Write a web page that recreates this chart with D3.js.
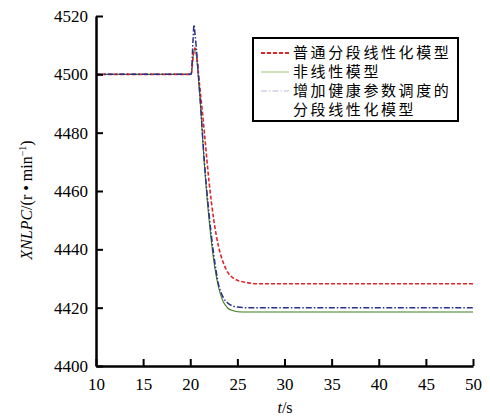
<!DOCTYPE html>
<html lang="zh">
<head>
<meta charset="utf-8">
<title>XNLPC</title>
<script src="https://cdn.jsdelivr.net/npm/d3@7"></script>
<style>
  body { margin: 0; background: #fff; }
  text { font-family: "Liberation Serif", "DejaVu Serif", serif; }
  .cjk { font-family: "Noto Sans CJK SC", sans-serif; }
</style>
</head>
<body>
<script>
// time points (s)
var times = [10, 20, 20.1, 20.3, 20.4, 20.5, 21, 21.5, 22, 22.5, 23, 23.5, 24, 24.5, 25, 26, 27, 50];
// common piecewise linearised model
var redVals   = [4500, 4500, 4500, 4506, 4508, 4509, 4496, 4480, 4463, 4450, 4441, 4435.5, 4432, 4430.3, 4429.4, 4428.6, 4428.2, 4428.2];
// nonlinear model
var greenVals = [4500, 4500, 4500, 4506, 4508, 4509, 4493, 4469, 4450, 4436, 4427, 4422, 4419.8, 4419, 4418.6, 4418.5, 4418.5, 4418.5];
// piecewise linearised model with health parameter scheduling
var blueVals  = [4500, 4500, 4500, 4512, 4517, 4514, 4494, 4470, 4452, 4438, 4428, 4423.5, 4421.5, 4420.6, 4420.2, 4420, 4420, 4420];

var xTicks = [10, 15, 20, 25, 30, 35, 40, 45, 50];
var yTicks = [4400, 4420, 4440, 4460, 4480, 4500, 4520];
var legendNames = ["普通分段线性化模型", "非线性模型", "增加健康参数调度的", "分段线性化模型"];

var w = 490, h = 418;
var mLeft = 96, mRight = 473, mTop = 16, mBottom = 366;

var x = d3.scaleLinear().domain([10, 50]).range([mLeft, mRight]);
var y = d3.scaleLinear().domain([4400, 4520]).range([mBottom, mTop]);

var svg = d3.select("body").append("svg")
    .attr("width", w)
    .attr("height", h);

var series = [
  {vals: greenVals, color: "#3f7d1f", dash: null, width: 1.1},
  {vals: redVals, color: "#e0262b", dash: "4,2", width: 1.6},
  {vals: blueVals, color: "#2a2f8c", dash: "6,2,1.5,2", width: 1.5}
];

var line = d3.line()
    .x(function(d) { return x(d[0]); })
    .y(function(d) { return y(d[1]); })
    .curve(d3.curveMonotoneX);

series.forEach(function(s) {
  svg.append("path")
     .datum(times.map(function(t, i) { return [t, s.vals[i]]; }))
     .attr("d", line)
     .attr("fill", "none")
     .attr("stroke", s.color)
     .attr("stroke-width", s.width)
     .attr("stroke-dasharray", s.dash);
});

// axes, ticks point inward
var xAxis = d3.axisBottom(x).tickValues(xTicks).tickSizeInner(-7).tickSizeOuter(0).tickPadding(12);
var yAxis = d3.axisLeft(y).tickValues(yTicks).tickFormat(d3.format("d"))
    .tickSizeInner(-7).tickSizeOuter(0).tickPadding(8);

var gx = svg.append("g").attr("transform", "translate(0," + mBottom + ")").call(xAxis);
var gy = svg.append("g").attr("transform", "translate(" + mLeft + ",0)").call(yAxis);

[gx, gy].forEach(function(g) {
  g.select(".domain").attr("stroke", "#000").attr("stroke-width", 2.5);
  g.selectAll(".tick line").attr("stroke", "#000").attr("stroke-width", 2);
  g.selectAll(".tick text")
   .attr("font-family", "Liberation Serif, serif")
   .attr("font-size", 17)
   .attr("fill", "#000");
});

// axis titles
svg.append("text")
   .attr("x", 285).attr("y", 413)
   .attr("text-anchor", "middle")
   .attr("font-size", 16)
   .html('<tspan font-style="italic">t</tspan>/s');

svg.append("text")
   .attr("transform", "translate(32,200) rotate(-90)")
   .attr("text-anchor", "middle")
   .attr("font-size", 16)
   .html('<tspan font-style="italic">XNLPC</tspan>/(r • min<tspan dy="-6" font-size="10">−1</tspan><tspan dy="6">)</tspan>');

// legend
var lg = svg.append("g");
lg.append("rect")
  .attr("x", 253).attr("y", 38).attr("width", 205).attr("height", 83)
  .attr("fill", "#fff").attr("stroke", "#000").attr("stroke-width", 2);

var legendLines = [
  {color: "#e0262b", dash: "4,2", width: 2, yy: 53},
  {color: "#9cc46a", dash: null, width: 1, yy: 72},
  {color: "#b8b8e0", dash: "6,2,1.5,2", width: 1, yy: 91}
];
legendLines.forEach(function(l) {
  lg.append("line")
    .attr("x1", 261).attr("x2", 289)
    .attr("y1", l.yy).attr("y2", l.yy)
    .attr("stroke", l.color)
    .attr("stroke-width", l.width)
    .attr("stroke-dasharray", l.dash);
});

lg.selectAll("text.leg")
  .data(legendNames)
  .enter()
  .append("text")
  .attr("class", "leg cjk")
  .attr("x", 293)
  .attr("y", function(d, i) { return 53 + i * 19; })
  .attr("dy", "0.35em")
  .attr("font-size", 15)
  .attr("letter-spacing", 2.6)
  .attr("fill", "#000")
  .text(function(d) { return d; });
</script>
</body>
</html>
